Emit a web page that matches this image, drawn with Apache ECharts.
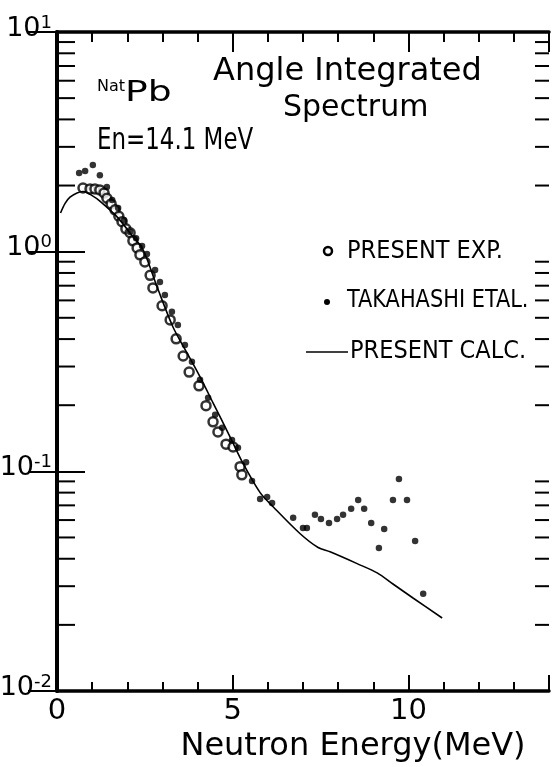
<!DOCTYPE html>
<html>
<head>
<meta charset="utf-8">
<script src="https://cdn.jsdelivr.net/npm/echarts@6/dist/echarts.min.js"></script>
<style>
html, body { margin: 0; padding: 0; background: #fff; }
#echarts { width: 556px; height: 767px; }
</style>
</head>
<body>
<div id="echarts"></div>
<script>
var myChart = echarts.init(document.getElementById('echarts'));

// present calculation (solid line)
var calcX = [0.1, 0.23, 0.37, 0.57, 0.74, 1.0, 1.22, 1.71, 2.16, 2.45, 2.85, 3.30, 3.70, 4.07, 4.44, 4.92, 5.29, 5.78, 6.15, 6.92, 7.43, 7.77, 8.54, 9.11, 9.56, 10.13, 10.96];
var calcY = [1.50, 1.66, 1.77, 1.85, 1.88, 1.80, 1.70, 1.44, 1.17, 1.02, 0.69, 0.454, 0.346, 0.269, 0.205, 0.144, 0.109, 0.080, 0.069, 0.052, 0.045, 0.043, 0.038, 0.0345, 0.0307, 0.0265, 0.0215];

// present experiment (open circles)
var expX = [0.74, 0.94, 1.08, 1.22, 1.34, 1.42, 1.54, 1.65, 1.76, 1.85, 1.96, 2.08, 2.16, 2.28, 2.36, 2.50, 2.65, 2.73, 2.99, 3.22, 3.39, 3.59, 3.76, 4.04, 4.24, 4.44, 4.58, 4.81, 5.01, 5.21, 5.26];
var expY = [1.95, 1.93, 1.93, 1.91, 1.85, 1.75, 1.65, 1.55, 1.45, 1.37, 1.27, 1.22, 1.12, 1.04, 0.967, 0.897, 0.78, 0.684, 0.567, 0.489, 0.401, 0.335, 0.283, 0.245, 0.199, 0.168, 0.151, 0.133, 0.129, 0.105, 0.0964];

// Takahashi et al. (filled dots)
var takaX = [0.63, 0.80, 1.02, 1.22, 1.42, 1.57, 1.74, 1.91, 2.08, 2.25, 2.42, 2.56, 2.79, 2.93, 3.07, 3.27, 3.44, 3.64, 3.84, 4.07, 4.30, 4.50, 4.70, 4.98, 5.15, 5.38, 5.55, 5.78, 5.98, 6.12, 6.72, 7.00, 7.11, 7.34, 7.51, 7.74, 7.97, 8.14, 8.37, 8.57, 8.74, 8.94, 9.16, 9.31, 9.56, 9.73, 9.96, 10.19, 10.42];
var takaY = [2.28, 2.33, 2.48, 2.23, 1.97, 1.72, 1.58, 1.39, 1.23, 1.15, 1.06, 0.977, 0.826, 0.728, 0.635, 0.532, 0.464, 0.376, 0.315, 0.261, 0.216, 0.181, 0.158, 0.139, 0.128, 0.110, 0.0904, 0.0748, 0.0764, 0.0718, 0.0614, 0.0552, 0.0552, 0.0634, 0.0607, 0.0582, 0.0607, 0.0634, 0.0675, 0.0741, 0.0675, 0.0582, 0.0448, 0.0547, 0.0741, 0.0923, 0.0741, 0.0482, 0.0277];

// minor ticks of the log axis
var minorTickValues = [];
[0.01, 0.1, 1].forEach(function (d) {
    for (var k = 2; k <= 9; k++) minorTickValues.push(+(k * d).toPrecision(2));
});

function pairs(xs, ys) {
    return xs.map(function (x, i) { return [x, ys[i]]; });
}

var FONT = "'DejaVu Sans', sans-serif";
var NARROW = "'DejaVu Sans Condensed', 'Liberation Sans Narrow', 'DejaVu Sans', sans-serif";

function label(x, y, text, size, family, sx) {
    return { type: 'text', x: x, y: y, scaleX: sx || 1,
        style: { text: text, fontSize: size, fontFamily: family, fill: '#000', verticalAlign: 'middle' } };
}

var option = {
    backgroundColor: '#fff',
    animation: false,
    grid: { left: 57, right: 7, top: 32, bottom: 76, containLabel: false, outerBoundsMode: 'none' },
    xAxis: [{
        type: 'value', min: 0, max: 14, interval: 5,
        name: 'Neutron Energy(MeV)', nameLocation: 'middle', nameGap: 40,
        nameTextStyle: { fontSize: 32, fontFamily: FONT, color: '#000', padding: [0, 0, 0, 100] },
        axisLine: { lineStyle: { color: '#000', width: 3.5 } },
        axisTick: { inside: true, length: 16, lineStyle: { color: '#000', width: 2 } },
        minorTick: { show: true, splitNumber: 5, length: 9, lineStyle: { color: '#000', width: 2 } },
        axisLabel: { fontSize: 29, fontFamily: FONT, color: '#000', margin: 6, showMaxLabel: false,
            formatter: function (v) { return v > 10 ? '' : String(v); } },
        splitLine: { show: false }
    }, {
        type: 'value', min: 0, max: 14, interval: 5, position: 'top',
        axisLine: { lineStyle: { color: '#000', width: 3.5 } },
        axisTick: { inside: true, length: 20, lineStyle: { color: '#000', width: 2 } },
        minorTick: { show: true, splitNumber: 5, length: 10, lineStyle: { color: '#000', width: 2 } },
        axisLabel: { show: false },
        splitLine: { show: false }
    }],
    yAxis: [{
        type: 'log', logBase: 10, min: 0.01, max: 10,
        axisLine: { lineStyle: { color: '#000', width: 4 } },
        axisTick: { inside: true, length: 28, lineStyle: { color: '#000', width: 2 } },
        axisLabel: {
            margin: 5,
            formatter: function (v) {
                var e = Math.round(Math.log10(v));
                return '{b|10}{s|' + e + '}';
            },
            rich: {
                b: { fontSize: 27, lineHeight: 36, verticalAlign: 'bottom', fontFamily: FONT, color: '#000', padding: [0, 0, 8, 0] },
                s: { fontSize: 18, verticalAlign: 'top', fontFamily: FONT, color: '#000' }
            }
        },
        splitLine: { show: false }
    }, {
        type: 'log', logBase: 10, min: 0.01, max: 10, position: 'right',
        axisLine: { lineStyle: { color: '#000', width: 3.5 } },
        axisTick: { inside: true, length: 29, lineStyle: { color: '#000', width: 2 } },
        axisLabel: { show: false },
        splitLine: { show: false }
    }],
    graphic: [
        label(97, 87, 'Nat', 16, FONT),
        label(125, 93, 'Pb', 29, FONT, 1.3),
        label(213, 72, 'Angle Integrated', 32, FONT),
        label(283, 108, 'Spectrum', 30, FONT),
        label(97, 141, 'En=14.1 MeV', 30, NARROW, 0.85),
        { type: 'circle', shape: { cx: 328, cy: 251, r: 4 }, style: { fill: '#fff', stroke: '#000', lineWidth: 2.5 } },
        label(347, 251, 'PRESENT EXP.', 25, NARROW),
        { type: 'circle', shape: { cx: 327, cy: 302, r: 3 }, style: { fill: '#000' } },
        label(347, 300, 'TAKAHASHI ETAL.', 25, NARROW, 0.93),
        { type: 'line', shape: { x1: 306, y1: 352, x2: 348, y2: 352 }, style: { stroke: '#000', lineWidth: 1.5 } },
        label(350, 351, 'PRESENT CALC.', 25, NARROW)
    ],
    series: [{
        name: 'PRESENT CALC.',
        type: 'line',
        data: pairs(calcX, calcY),
        showSymbol: false,
        smooth: 0.3,
        lineStyle: { color: '#000', width: 1.6 }
    }, {
        name: 'PRESENT EXP.',
        type: 'scatter',
        data: pairs(expX, expY),
        symbol: 'circle',
        symbolSize: 9,
        itemStyle: { color: '#fff', borderColor: '#000', borderWidth: 2.5 }
    }, {
        name: 'TAKAHASHI ETAL.',
        type: 'scatter',
        data: pairs(takaX, takaY),
        symbol: 'circle',
        symbolSize: 6.5,
        itemStyle: { color: '#000' }
    }, {
        // minor ticks on both log axes, placed through the axis scale
        type: 'custom',
        silent: true,
        clip: false,
        data: minorTickValues.map(function (v) { return [0, v]; }),
        renderItem: function (params, api) {
            var v = api.value(1);
            var l = api.coord([0, v]);
            var r = api.coord([14, v]);
            return {
                type: 'group',
                children: [
                    { type: 'line', shape: { x1: l[0], y1: l[1], x2: l[0] + 18, y2: l[1] }, style: { stroke: '#000', lineWidth: 2 } },
                    { type: 'line', shape: { x1: r[0] - 14, y1: r[1], x2: r[0], y2: r[1] }, style: { stroke: '#000', lineWidth: 2 } }
                ]
            };
        }
    }]
};
myChart.setOption(option);
</script>
</body>
</html>
